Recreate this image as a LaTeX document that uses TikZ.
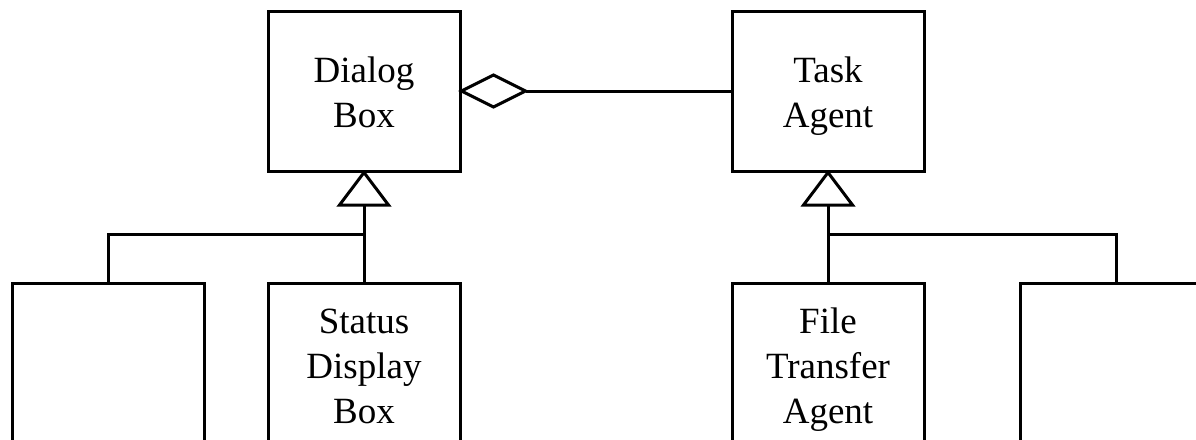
\documentclass[tikz,border=0pt]{standalone}
\usepackage{fontspec}
\setmainfont{Liberation Serif}
\usetikzlibrary{calc}
\begin{document}
\begin{tikzpicture}[x=1pt,y=-1pt,line width=3pt,
  box/.style={draw,rectangle,minimum width=192pt,align=center,inner sep=0pt,
    font=\fontsize{37}{45}\selectfont},
  topbox/.style={box,minimum height=160pt,text height=72pt,text depth=0pt},
  botbox/.style={box,minimum height=200pt,text height=114.6pt,text depth=34.6pt,anchor=north}]
\useasboundingbox (0,0) rectangle (1196,439);
\clip (0,0) rectangle (1196,439);
\node[topbox] (dialog) at (364,91) {Dialog\\Box};
\node[topbox] (task) at (828,91) {Task\\Agent};
\node[botbox] (left) at (108,282) {};
\node[botbox] (status) at (364,282) {Status\\Display\\Box};
\node[botbox] (file) at (828,282) {File\\Transfer\\Agent};
\node[botbox] (right) at (1116,282) {};
% aggregation diamond
\coordinate (dtip) at ($(dialog.east)+(64,0)$);
\draw (dialog.east) -- ++(32,-16) -- (dtip) -- ++(-32,16) -- cycle;
\draw (dtip) -- (task.west);
% generalization triangles
\coordinate (dbase) at ($(dialog.south)+(0,32.5)$);
\coordinate (tbase) at ($(task.south)+(0,32.5)$);
\draw (dialog.south) -- ($(dbase)+(-24.5,0)$) -- ($(dbase)+(24.5,0)$) -- cycle;
\draw (task.south) -- ($(tbase)+(-24.5,0)$) -- ($(tbase)+(24.5,0)$) -- cycle;
\draw (status.north) -- (dbase);
\draw (file.north) -- (tbase);
\draw (left.north) |- (status.north |- 0,234);
\draw (right.north) |- (file.north |- 0,234);
\end{tikzpicture}
\end{document}
